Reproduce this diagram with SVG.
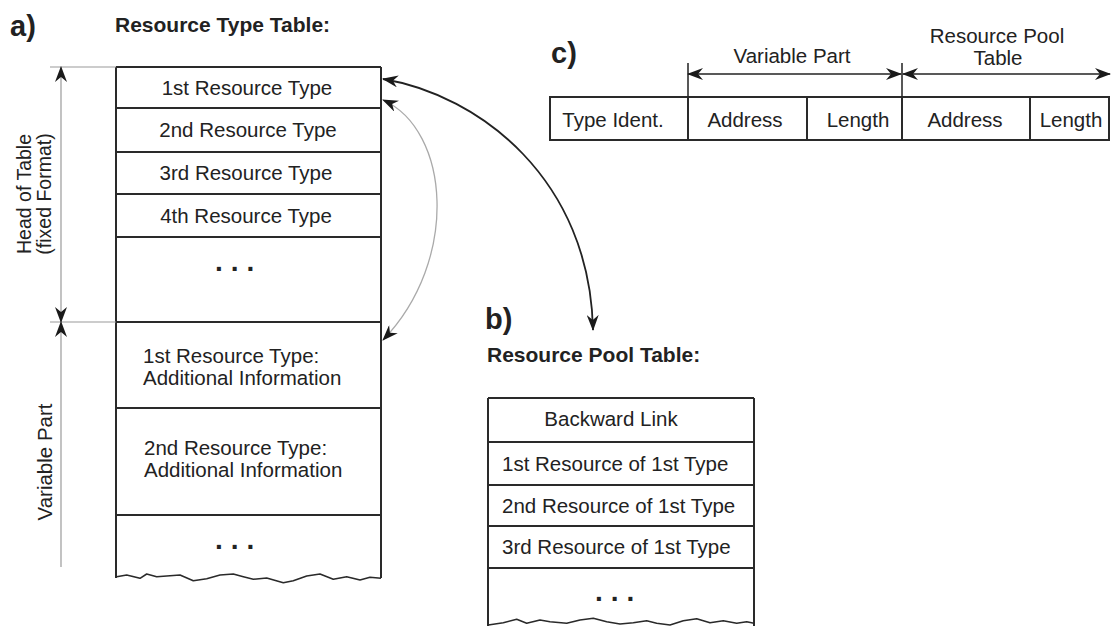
<svg xmlns="http://www.w3.org/2000/svg" width="1111" height="626" viewBox="0 0 1111 626">
<defs>
<marker id="ah" viewBox="0 0 16 12" refX="15" refY="6" markerWidth="16" markerHeight="12" markerUnits="userSpaceOnUse" orient="auto-start-reverse">
<path d="M0,0 L16,6 L0,12 L5,6 z" fill="#1a1a1a"/>
</marker>
</defs>
<style>
text{font-family:"Liberation Sans",Arial,Helvetica,sans-serif;fill:#222;font-size:20.5px}
.b{font-weight:bold;font-size:21px}
.big{font-weight:bold;font-size:29px}
.m{text-anchor:middle}
.rot{font-size:19.5px}
.dots{font-weight:bold;font-size:28px;letter-spacing:8px}
.tb{fill:none;stroke:#2a2a2a;stroke-width:2}
.wave{fill:none;stroke:#2a2a2a;stroke-width:1.6;stroke-linejoin:round}
.dim{fill:none;stroke:#9a9a9a;stroke-width:1.2}
.dimk{fill:none;stroke:#222;stroke-width:1.5}
.ext{fill:none;stroke:#9a9a9a;stroke-width:1.2}
</style>
<rect width="1111" height="626" fill="#fff"/>

<g id="labels">
<text class="big" x="10" y="36">a)</text>
<text class="b" x="115" y="32">Resource Type Table:</text>
<text class="big" x="485" y="329">b)</text>
<text class="b" x="487" y="362">Resource Pool Table:</text>
<text class="big" x="551" y="63">c)</text>
</g>

<g id="table-a">
<path class="tb" d="M116,67 V578 M381,67 V578 M116,67 H381 M116,108 H381 M116,152 H381 M116,194 H381 M116,237 H381 M116,322 H381 M116,408 H381 M116,515 H381"/>
<path class="wave" d="M116.7,576.7 L126.7,575 L140,578.3 L146.7,574 L156.7,576.7 L166.7,576 L180,575 L193.3,580.7 L206.7,578.7 L220,575 L233.3,574 L243.3,576.7 L253.3,579.3 L266.7,578 L283.3,582.7 L293.3,580.7 L306.7,576 L320,574 L333.3,579.3 L346.7,576.7 L360,580 L370,577.3 L381,578.3"/>
<text class="m" x="247" y="95">1st Resource Type</text>
<text class="m" x="248" y="137">2nd Resource Type</text>
<text class="m" x="246" y="180">3rd Resource Type</text>
<text class="m" x="246" y="223">4th Resource Type</text>
<text class="dots" x="215" y="271">...</text>
<text x="143" y="363">1st Resource Type:</text>
<text x="143" y="385">Additional Information</text>
<text x="144" y="455">2nd Resource Type:</text>
<text x="144" y="477">Additional Information</text>
<text class="dots" x="215" y="549">...</text>
</g>

<g id="dim-a">
<path class="ext" d="M50,67 H116 M50,322 H116"/>
<path class="dim" d="M61,67 V322" marker-start="url(#ah)" marker-end="url(#ah)"/>
<path class="dim" d="M61,322 V567" marker-start="url(#ah)"/>
<text class="m rot" transform="translate(31,194) rotate(-90)">Head of Table</text>
<text class="m rot" transform="translate(51,194) rotate(-90)">(fixed Format)</text>
<text class="m" transform="translate(52,462) rotate(-90)">Variable Part</text>
</g>

<g id="table-b">
<path class="tb" d="M488,398 V626 M754,398 V626 M488,398 H754 M488,442 H754 M488,485 H754 M488,526 H754 M488,568 H754"/>
<path class="wave" d="M488.3,625 L503.3,622.7 L516.7,619.3 L526.7,623.3 L540,620 L550,621.7 L566.7,623.3 L580,620 L593.3,618.3 L606.7,621.7 L620,624 L633.3,622.7 L646.7,620.7 L656.7,623.3 L670,625 L683.3,620.7 L696.7,618.7 L710,622.7 L723.3,620.7 L736.7,623.3 L746.7,621.7 L754,623.3"/>
<text class="m" x="611" y="426">Backward Link</text>
<text x="502" y="471">1st Resource of 1st Type</text>
<text x="502" y="513">2nd Resource of 1st Type</text>
<text x="502" y="554">3rd Resource of 1st Type</text>
<text class="dots" x="595" y="601">...</text>
</g>

<g id="table-c">
<path class="tb" d="M550,97 H1109 V140 H550 Z M688,97 V140 M807,97 V140 M902,97 V140 M1030,97 V140"/>
<text class="m" x="613" y="127">Type Ident.</text>
<text class="m" x="745" y="127">Address</text>
<text class="m" x="858" y="127">Length</text>
<text class="m" x="965" y="127">Address</text>
<text class="m" x="1071" y="127">Length</text>
<path class="dimk" d="M688,63 V97 M902,63 V97"/>
<path class="dimk" d="M688,74 H901" marker-start="url(#ah)" marker-end="url(#ah)"/>
<path class="dimk" d="M903,74 H1110" marker-start="url(#ah)" marker-end="url(#ah)"/>
<text class="m" x="792" y="63">Variable Part</text>
<text class="m" x="997" y="43">Resource Pool</text>
<text class="m" x="998" y="65">Table</text>
</g>

<g id="connectors">
<path d="M383,79 C480,95 590,180 593,330" fill="none" stroke="#222" stroke-width="1.8" marker-start="url(#ah)" marker-end="url(#ah)"/>
<path d="M383,100 C450,130 460,260 383,340" fill="none" stroke="#aaa" stroke-width="1.3" marker-start="url(#ah)" marker-end="url(#ah)"/>
</g>
</svg>
